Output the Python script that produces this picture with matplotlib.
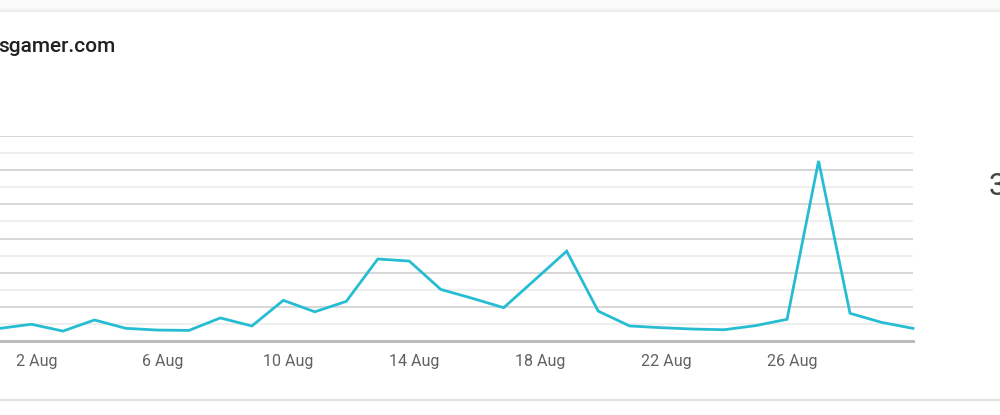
import matplotlib
matplotlib.use("Agg")
import matplotlib.pyplot as plt
from matplotlib.patches import Rectangle
from matplotlib.lines import Line2D
import matplotlib.transforms as mtransforms

# ---- data ----
days = list(range(1, 31))  # 1 Aug .. 30 Aug
values = [0.74, 0.98, 0.58, 1.23, 0.74, 0.64, 0.62, 1.35, 0.88, 2.38,
          1.71, 2.32, 4.80, 4.68, 3.02, 2.50, 1.95, 3.60, 5.26, 1.75,
          0.88, 0.78, 0.70, 0.66, 0.90, 1.27, 10.54, 1.62, 1.09, 0.74]
tick_days = [2, 6, 10, 14, 18, 22, 26]
tick_labels = ["2 Aug", "6 Aug", "10 Aug", "14 Aug", "18 Aug", "22 Aug", "26 Aug"]
title = "sgamer.com"

W, H = 1000, 415
fig = plt.figure(figsize=(W / 100, H / 100), dpi=100)
fig.patch.set_facecolor("white")

# card shadow at top and separator at bottom
fig.add_artist(Rectangle((0, 1 - 8 / H), 1, 8 / H, transform=fig.transFigure,
                         facecolor="#fbfbfb", edgecolor="none"))
for i, c in enumerate(["#f7f7f7", "#f2f2f2", "#eeeeee", "#ececec"]):
    fig.add_artist(Rectangle((0, 1 - (9 + i) / H), 1, 1 / H, transform=fig.transFigure,
                             facecolor=c, edgecolor="none"))
fig.add_artist(Line2D([0, 1], [1 - 399.5 / H] * 2, transform=fig.transFigure,
                      color="#e4e4e4", lw=1.6))

left, right = 0 / W, 913 / W
top, bottom = 136 / H, 341 / H
ax = fig.add_axes([left, 1 - bottom, right - left, bottom - top])
ax.set_xlim(1, 30)
ax.set_ylim(0, 12)

for y in range(1, 13):
    col = "#d0d0d0" if y % 2 == 0 else "#ebebeb"
    ax.axhline(y, color=col, lw=1.2, zorder=1)
ax.axhline(0, color="#bdbdbd", lw=2.2, zorder=2, clip_on=False)

ax.plot(days, values, color="#26bdd2", lw=2.0, zorder=3, solid_joinstyle="miter",
        clip_on=False)

for s in ax.spines.values():
    s.set_visible(False)
ax.set_yticks([])
ax.set_xticks(tick_days)
ax.set_xticklabels(tick_labels, fontsize=11.5, color="#616161", family="Roboto")
ax.tick_params(axis="x", length=0, pad=9)
offset = mtransforms.ScaledTranslation(5 / 100, 0, fig.dpi_scale_trans)
for lab in ax.get_xticklabels():
    lab.set_transform(lab.get_transform() + offset)

fig.text(-2 / W, 1 - 47 / H, title, fontsize=15, color="#212121", family="Roboto",
         fontweight="medium", ha="left", va="center")
fig.text(989 / W, 1 - 186 / H, "3", fontsize=22, color="#444444", family="Roboto",
         ha="left", va="center")

fig.savefig("out.png", dpi=100, facecolor="white")
